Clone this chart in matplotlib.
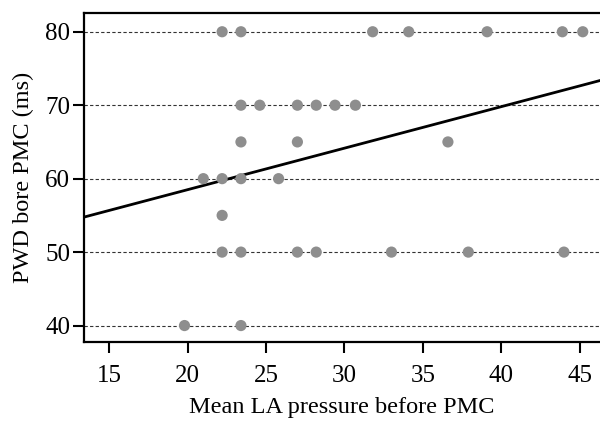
import matplotlib
matplotlib.use("Agg")
import matplotlib.pyplot as plt
import numpy as np

# mean LA pressure before PMC vs PWD before PMC (ms)
la_pressure = [22.2, 23.4, 31.8, 34.1, 39.1, 43.9, 45.2,
               23.4, 24.6, 27.0, 28.2, 29.4, 30.7,
               23.4, 27.0, 36.6,
               21.0, 22.2, 23.4, 25.8,
               22.2,
               22.2, 23.4, 27.0, 28.2, 33.0, 37.9, 44.0,
               19.8, 23.4]
pwd = [80, 80, 80, 80, 80, 80, 80,
       70, 70, 70, 70, 70, 70,
       65, 65, 65,
       60, 60, 60, 60,
       55,
       50, 50, 50, 50, 50, 50, 50,
       40, 40]

# fitted regression line
fit_intercept = 47.2
fit_slope = 0.565

xticks = [15, 20, 25, 30, 35, 40, 45]
yticks = [40, 50, 60, 70, 80]

plt.rcParams['font.family'] = ['Liberation Serif', 'DejaVu Serif']

fig = plt.figure(figsize=(6, 4.32), dpi=100)
ax = fig.add_axes([0.14, 0.209, 0.86, 0.76])

xmin, xmax = 13.39, 46.3
ax.set_xlim(xmin, xmax)
ax.set_ylim(37.8, 82.5)

for yv in yticks:
    ax.axhline(yv, color='0.2', lw=0.8, ls=(0, (3, 2)), zorder=1)

xs = np.array([xmin, xmax])
ax.plot(xs, fit_intercept + fit_slope * xs, color='black', lw=2, zorder=2)

ax.scatter(la_pressure, pwd, s=65, color='#8e8e8e', edgecolors='none', zorder=3)

ax.set_xticks(xticks)
ax.set_yticks(yticks)
ax.tick_params(axis='both', labelsize=18, length=8, width=1.5, direction='out', pad=2)
ax.tick_params(axis='x', pad=9)

for side in ['left', 'bottom', 'top']:
    ax.spines[side].set_linewidth(1.6)
ax.spines['right'].set_visible(False)

ax.set_xlabel('Mean LA pressure before PMC', fontsize=17.5, labelpad=7)
ax.set_ylabel('PWD bore PMC (ms)', fontsize=17.5, labelpad=8)

fig.savefig('out.png', dpi=100)
